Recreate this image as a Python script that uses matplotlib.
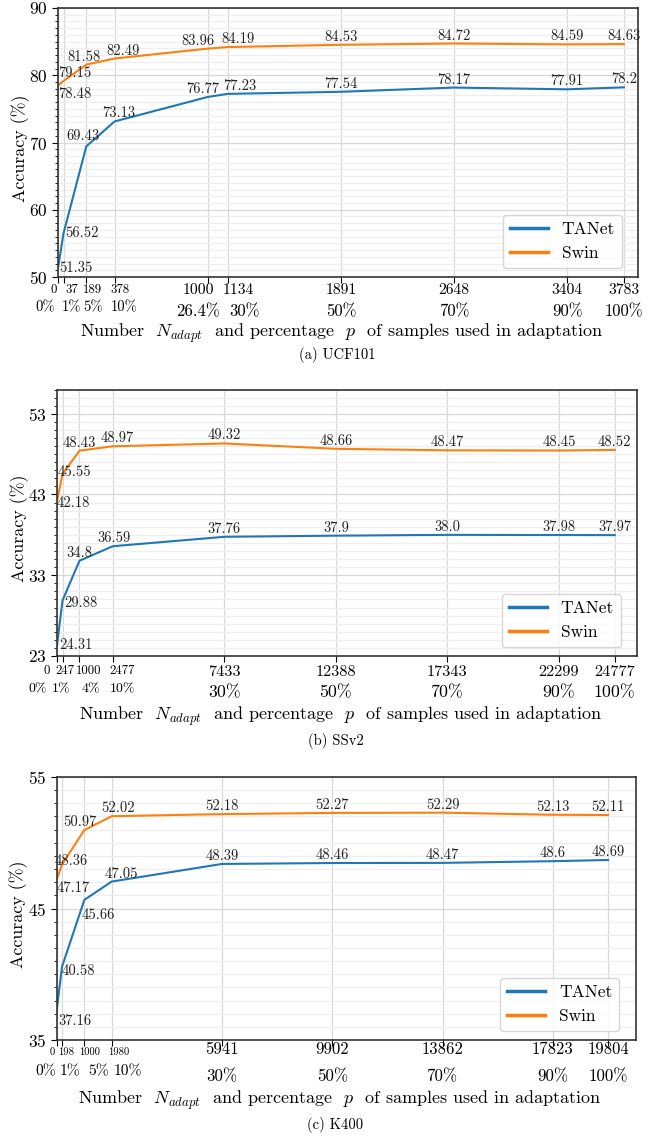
import matplotlib
matplotlib.use("Agg")
import matplotlib.pyplot as plt
from matplotlib.ticker import MultipleLocator

plt.rcParams["font.family"] = "serif"
plt.rcParams["font.serif"] = ["cmr10"]
plt.rcParams["mathtext.fontset"] = "cm"
plt.rcParams["axes.unicode_minus"] = False
plt.rcParams["axes.formatter.use_mathtext"] = True

# (a) UCF101
ucf_n = [0, 37, 189, 378, 1000, 1134, 1891, 2648, 3404, 3783]
ucf_pct = ["0%", "1%", "5%", "10%", "26.4%", "30%", "50%", "70%", "90%", "100%"]
ucf_tanet = [51.35, 56.52, 69.43, 73.13, 76.77, 77.23, 77.54, 78.17, 77.91, 78.2]
ucf_swin = [78.48, 79.15, 81.58, 82.49, 83.96, 84.19, 84.53, 84.72, 84.59, 84.63]

# (b) SSv2
ssv2_n = [0, 247, 1000, 2477, 7433, 12388, 17343, 22299, 24777]
ssv2_pct = ["0%", "1%", "4%", "10%", "30%", "50%", "70%", "90%", "100%"]
ssv2_tanet = [24.31, 29.88, 34.8, 36.59, 37.76, 37.9, 38.0, 37.98, 37.97]
ssv2_swin = [42.18, 45.55, 48.43, 48.97, 49.32, 48.66, 48.47, 48.45, 48.52]

# (c) K400
k400_n = [0, 198, 1000, 1980, 5941, 9902, 13862, 17823, 19804]
k400_pct = ["0%", "1%", "5%", "10%", "30%", "50%", "70%", "90%", "100%"]
k400_tanet = [37.16, 40.58, 45.66, 47.05, 48.39, 48.46, 48.47, 48.6, 48.69]
k400_swin = [47.17, 48.36, 50.97, 52.02, 52.18, 52.27, 52.29, 52.13, 52.11]

BLUE = "#1f77b4"
ORANGE = "#ff7f0e"

# value label placement for the crowded points: (dx px, dy px, ha, va)
ucf_offsets = {
    ("t", 0): (1, 0, "left", "center"), ("t", 1): (2, 0, "left", "center"),
    ("t", 2): (-3, 3, "center", "bottom"), ("t", 3): (4, 1, "center", "bottom"),
    ("t", 4): (-5, 1, "center", "bottom"), ("t", 5): (12, 1, "center", "bottom"),
    ("s", 0): (0, -2, "left", "top"), ("s", 1): (-5.5, 1, "left", "bottom"),
    ("s", 2): (-2, 1, "center", "bottom"), ("s", 3): (8, 1, "center", "bottom"),
    ("s", 4): (-10, 1, "center", "bottom"), ("s", 5): (10, 1, "center", "bottom"),
}
ssv2_offsets = {
    ("t", 0): (2, 0, "left", "center"), ("t", 1): (2, -2.5, "left", "center"),
    ("t", 3): (1, 1, "center", "bottom"),
    ("s", 0): (0, -2, "left", "center"), ("s", 1): (-4.5, 1.5, "left", "center"),
    ("s", 3): (5, 1, "center", "bottom"),
}
k400_offsets = {
    ("t", 0): (1.5, -3, "left", "top"), ("t", 1): (0, -4, "left", "center"),
    ("t", 2): (-2.5, -8, "left", "top"), ("t", 3): (10, 1, "center", "bottom"),
    ("s", 0): (0, -1, "left", "top"), ("s", 1): (-7, 3, "left", "center"),
    ("s", 2): (-4, 1, "center", "bottom"), ("s", 3): (6, 1, "center", "bottom"),
}

panels = [
    dict(n=ucf_n, pct=ucf_pct, tanet=ucf_tanet, swin=ucf_swin, offsets=ucf_offsets,
         rect=[0.089, 0.7572, 0.8896, 0.2358], ylim=(50, 90), xpad=1.025,
         small=(9.2, 10.5), big=(11.3, 12), rows=(14, 14.5, 31.5, 36),
         dx1=[-4, 8, 6, 5, -9.6, 10.8], dx2=[-13, 7.5, 6.5, 10, -9.6, 17],
         caption="(a) UCF101", label_y=-0.208, cap_y=-0.29),
    dict(n=ssv2_n, pct=ssv2_pct, tanet=ssv2_tanet, swin=ssv2_swin, offsets=ssv2_offsets,
         rect=[0.0874, 0.4251, 0.8896, 0.2335], ylim=(23, 56), xpad=1.04,
         small=(9.1, 10), big=(11.7, 12.8), rows=(15.7, 16.7, 34.7, 37.3),
         dx1=[-10, 2.4, 9.3, 9.8], dx2=[-19, -1, 11.3, 9.3],
         caption="(b) SSv2", label_y=-0.225, cap_y=-0.319),
    dict(n=k400_n, pct=k400_pct, tanet=k400_tanet, swin=k400_swin, offsets=k400_offsets,
         rect=[0.0867, 0.0885, 0.8881, 0.2305], ylim=(35, 55), xpad=1.05,
         small=(7.6, 11.2), big=(12, 12.2), rows=(13.2, 10, 32.8, 37.8),
         dx1=[-4, 4, 5.4, 7.5], dx2=[-11, 8, 14, 16.4],
         caption="(c) K400", label_y=-0.228, cap_y=-0.323),
]

fig = plt.figure(figsize=(6.52, 11.41), dpi=100)

for p in panels:
    ax = fig.add_axes(p["rect"])
    ax.plot(p["n"], p["tanet"], color=BLUE, lw=1.5, label="TANet")
    ax.plot(p["n"], p["swin"], color=ORANGE, lw=1.5, label="Swin")

    for key, series in (("t", p["tanet"]), ("s", p["swin"])):
        for i, (x, y) in enumerate(zip(p["n"], series)):
            dx, dy, ha, va = p["offsets"].get((key, i), (0, 1, "center", "bottom"))
            ax.annotate(str(y), (x, y), xytext=(dx, dy), textcoords="offset pixels",
                        ha=ha, va=va, fontsize=10.5, color="#222222")

    ax.set_xlim(0, max(p["n"]) * p["xpad"])
    ax.set_ylim(*p["ylim"])
    ax.set_yticks(range(p["ylim"][0], p["ylim"][1] + 1, 10))
    ax.yaxis.set_minor_locator(MultipleLocator(1))
    ax.tick_params(axis="y", which="major", labelsize=12.5, length=4)
    ax.tick_params(axis="y", which="minor", length=2)

    # x tick labels: count row and percentage row, drawn under each tick
    ax.set_xticks(p["n"])
    ax.set_xticklabels([])
    ax.tick_params(axis="x", which="major", length=4)
    xt = ax.get_xaxis_transform()
    r1s, r1b, r2s, r2b = p["rows"]
    for i, (n, pc) in enumerate(zip(p["n"], p["pct"])):
        sm = i < 4
        dx1 = p["dx1"][i] if i < len(p["dx1"]) else 0
        dx2 = p["dx2"][i] if i < len(p["dx2"]) else 0
        ax.annotate(str(n), (n, 0), xycoords=xt, xytext=(dx1, -(r1s if sm else r1b) + 1),
                    textcoords="offset pixels", ha="center", va="center",
                    fontsize=p["small"][0] if sm else p["big"][0], annotation_clip=False)
        ax.annotate(pc, (n, 0), xycoords=xt, xytext=(dx2, -(r2s if sm else r2b) + 1),
                    textcoords="offset pixels", ha="center", va="center",
                    fontsize=p["small"][1] if sm else p["big"][1], annotation_clip=False)

    ax.grid(True, which="major", color="#d8d8d8", lw=0.9)
    ax.grid(True, which="minor", axis="y", color="#eeeeee", lw=0.9)
    ax.set_axisbelow(True)
    for s in ax.spines.values():
        s.set_color("#333333")
        s.set_linewidth(1.2)

    ax.set_ylabel("Accuracy (%)", fontsize=12.9)
    ax.yaxis.set_label_coords(-0.049, 0.48)
    ax.text(0.489, p["label_y"], r"Number  $N_{adapt}$  and percentage  $p$  of samples used in adaptation",
            transform=ax.transAxes, ha="center", va="center", fontsize=13)
    ax.text(0.481, p["cap_y"], p["caption"], transform=ax.transAxes,
            ha="center", va="center", fontsize=10.5)

    leg = ax.legend(loc="lower right", bbox_to_anchor=(0.987, 0.0), fontsize=12.5,
                    handlelength=2.2, fancybox=True, framealpha=0.8)
    for line in leg.get_lines():
        line.set_linewidth(2.5)

fig.savefig("out.png", dpi=100)
